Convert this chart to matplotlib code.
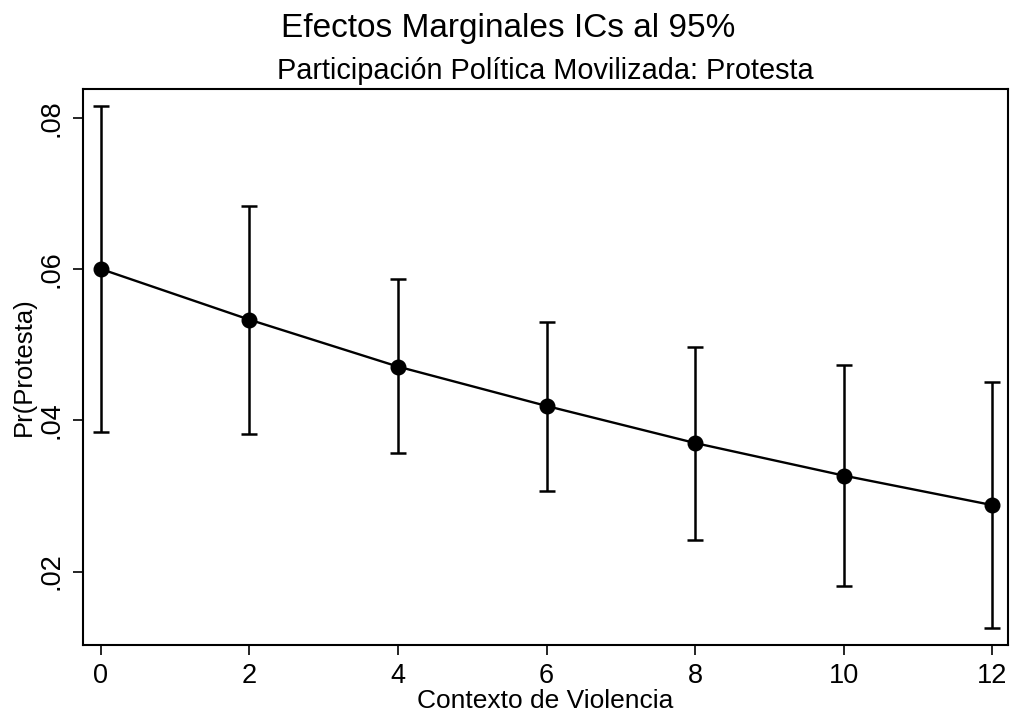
import matplotlib
matplotlib.use("Agg")
from matplotlib import pyplot as plt
from matplotlib.ticker import FuncFormatter
import numpy as np

plt.rcParams['font.family'] = ['Liberation Sans', 'DejaVu Sans']

# marginal effects
violencia = [0, 2, 4, 6, 8, 10, 12]
pr_protesta = [0.0600, 0.0533, 0.0471, 0.0419, 0.0370, 0.0327, 0.0288]
ci_low = [0.0384, 0.0382, 0.0357, 0.0307, 0.0242, 0.0181, 0.0126]
ci_high = [0.0815, 0.0683, 0.0587, 0.0530, 0.0497, 0.0473, 0.0451]
yticks = [0.02, 0.04, 0.06, 0.08]
xticks = [0, 2, 4, 6, 8, 10, 12]

fig = plt.figure(figsize=(10.1, 7.13), dpi=100)
ax = fig.add_axes([0.0822, 0.0954, 0.9158, 0.7798])

y = np.array(pr_protesta)
err = [y - np.array(ci_low), np.array(ci_high) - y]
ax.errorbar(violencia, y, yerr=err, fmt='none', ecolor='black',
            elinewidth=1.8, capsize=6, capthick=1.8)
ax.plot(violencia, y, color='black', lw=1.7, marker='o', ms=10.5)

ax.set_xlim(-0.242, 12.215)
ax.set_ylim(0.0103, 0.0838)
ax.set_xticks(xticks)
ax.set_yticks(yticks)
ax.yaxis.set_major_formatter(FuncFormatter(lambda v, p: ('%.2f' % v).lstrip('0')))
for lab in ax.get_yticklabels():
    lab.set_rotation(90)
    lab.set_va('center')
ax.tick_params(axis='both', labelsize=19.5, length=7, width=1.2, pad=6, color='black')
for s in ax.spines.values():
    s.set_linewidth(1.5)

ax.set_xlabel('Contexto de Violencia', fontsize=19, labelpad=0)
ax.set_ylabel('Pr(Protesta)', fontsize=18.5, labelpad=2)
ax.set_title('Participación Política Movilizada: Protesta', fontsize=20.8, pad=7)
fig.suptitle('Efectos Marginales ICs al 95%', fontsize=24, x=0.503, y=0.982)

fig.savefig('out.png', dpi=100)
